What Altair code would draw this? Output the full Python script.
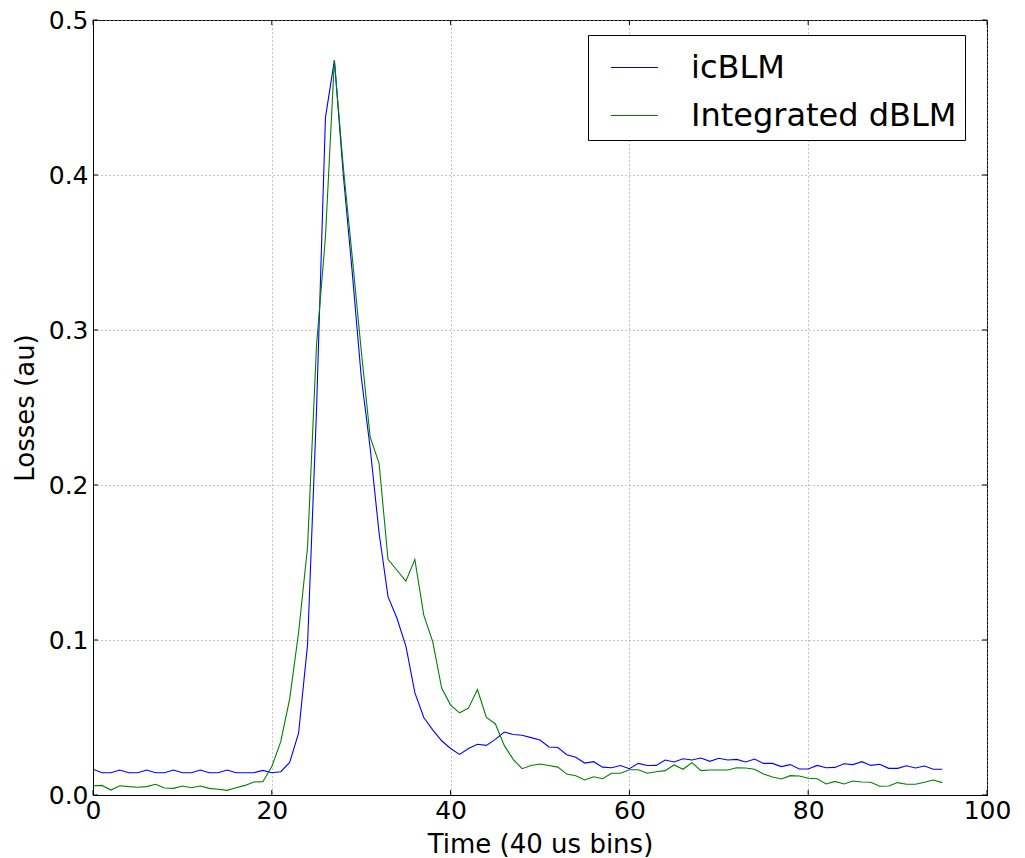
import altair as alt
import pandas as pd

time_bins = list(range(96))

icblm = [
    0.0166, 0.0144, 0.0144, 0.0161, 0.0144, 0.0144, 0.0161, 0.0144, 0.0144, 0.0161,
    0.0144, 0.0144, 0.0161, 0.0144, 0.0144, 0.0161, 0.0144, 0.0144, 0.0144, 0.0159,
    0.0144, 0.0150, 0.0210, 0.0400, 0.0970, 0.2480, 0.4370, 0.4740, 0.4000, 0.3370,
    0.2700, 0.2240, 0.1690, 0.1280, 0.1140, 0.0960, 0.0660, 0.0500, 0.0420, 0.0350,
    0.0300, 0.0262, 0.0300, 0.0327, 0.0320, 0.0359, 0.0406, 0.0390, 0.0385, 0.0370,
    0.0355, 0.0310, 0.0306, 0.0260, 0.0243, 0.0206, 0.0215, 0.0180, 0.0176, 0.0190,
    0.0170, 0.0204, 0.0190, 0.0191, 0.0226, 0.0213, 0.0234, 0.0226, 0.0239, 0.0217,
    0.0237, 0.0226, 0.0230, 0.0213, 0.0232, 0.0204, 0.0204, 0.0183, 0.0196, 0.0168,
    0.0168, 0.0191, 0.0176, 0.0178, 0.0202, 0.0196, 0.0215, 0.0191, 0.0198, 0.0172,
    0.0172, 0.0189, 0.0174, 0.0187, 0.0166, 0.0166,
]

integrated_dblm = [
    0.0060, 0.0062, 0.0032, 0.0060, 0.0054, 0.0050, 0.0054, 0.0069, 0.0045, 0.0043,
    0.0058, 0.0047, 0.0058, 0.0043, 0.0037, 0.0030, 0.0047, 0.0062, 0.0084, 0.0086,
    0.0183, 0.0344, 0.0620, 0.1050, 0.1600, 0.2900, 0.3600, 0.4740, 0.4050, 0.3470,
    0.2870, 0.2310, 0.2140, 0.1520, 0.1450, 0.1380, 0.1520, 0.1160, 0.0990, 0.0690,
    0.0580, 0.0530, 0.0560, 0.0680, 0.0500, 0.0460, 0.0320, 0.0230, 0.0170, 0.0190,
    0.0200, 0.0190, 0.0180, 0.0135, 0.0124, 0.0097, 0.0118, 0.0105, 0.0140, 0.0140,
    0.0163, 0.0163, 0.0140, 0.0150, 0.0157, 0.0194, 0.0166, 0.0209, 0.0157, 0.0161,
    0.0161, 0.0161, 0.0176, 0.0174, 0.0166, 0.0135, 0.0116, 0.0103, 0.0125, 0.0123,
    0.0108, 0.0105, 0.0071, 0.0088, 0.0071, 0.0090, 0.0084, 0.0082, 0.0056, 0.0058,
    0.0080, 0.0069, 0.0069, 0.0082, 0.0097, 0.0080,
]

series_names = ["icBLM", "Integrated dBLM"]
series_colors = ["#0000ff", "#008000"]
x_ticks = [0, 20, 40, 60, 80, 100]
y_ticks = [0.0, 0.1, 0.2, 0.3, 0.4, 0.5]

df = pd.DataFrame({
    "t": time_bins + time_bins,
    "v": icblm + integrated_dblm,
    "s": [series_names[0]] * len(icblm) + [series_names[1]] * len(integrated_dblm),
})
xt = pd.DataFrame({"t": x_ticks})
yt = pd.DataFrame({"v": y_ticks})

W, H = 894, 775
FONT = "DejaVu Sans"
xscale = alt.Scale(domain=[0, 100], nice=False, zero=False)
yscale = alt.Scale(domain=[0, 0.5], nice=False, zero=False)

x_axis = alt.Axis(
    values=x_ticks, title="Time (40 us bins)", labelFontSize=25, titleFontSize=26,
    labelPadding=3, titlePadding=8, tickSize=0, labelFlush=False, labelOverlap=False,
    grid=True, format="d")
y_axis = alt.Axis(
    values=y_ticks, format=".1f", title="Losses (au)", labelFontSize=25, titleFontSize=26,
    labelPadding=5, titlePadding=10, tickSize=0, labelFlush=False, labelOverlap=False,
    grid=True)

X = alt.X("t:Q", scale=xscale, axis=x_axis, title="Time (40 us bins)")
Y = alt.Y("v:Q", scale=yscale, axis=y_axis, title="Losses (au)")

lines = alt.Chart(df).mark_line(strokeWidth=1.1, clip=True).encode(
    x=X,
    y=Y,
    color=alt.Color("s:N", scale=alt.Scale(domain=series_names, range=series_colors),
                    legend=alt.Legend(
                        title=None, orient="none", legendX=495, legendY=15,
                        symbolType="stroke", symbolSize=2209, symbolStrokeWidth=1.2,
                        labelFontSize=32, labelFont=FONT, labelColor="black",
                        strokeColor="black", fillColor="white", padding=8,
                        symbolOffset=14, labelOffset=32, rowPadding=7,
                        cornerRadius=0, labelLimit=400)),
)

tick_len = 5
bottom_ticks = alt.Chart(xt).mark_rule(color="black", strokeWidth=1).encode(
    x=X, y=alt.value(H), y2=alt.value(H - tick_len))
top_ticks = alt.Chart(xt).mark_rule(color="black", strokeWidth=1).encode(
    x=X, y=alt.value(0), y2=alt.value(tick_len))
left_ticks = alt.Chart(yt).mark_rule(color="black", strokeWidth=1).encode(
    y=Y, x=alt.value(0), x2=alt.value(tick_len))
right_ticks = alt.Chart(yt).mark_rule(color="black", strokeWidth=1).encode(
    y=Y, x=alt.value(W), x2=alt.value(W - tick_len))

chart = alt.layer(lines, bottom_ticks, top_ticks, left_ticks, right_ticks).properties(
    width=W, height=H,
    autosize=alt.AutoSizeParams(type="none"),
    padding={"left": 93, "top": 20, "right": 38, "bottom": 63},
    background="white",
).configure_view(
    stroke="black", strokeWidth=1
).configure_axis(
    labelFont=FONT, titleFont=FONT, labelColor="black", titleColor="black",
    titleFontWeight="normal", domainColor="black", domainWidth=1,
    gridColor="#888888", gridWidth=1, gridDash=[1, 3],
)

chart.save("out.html", embed_options={"renderer": "svg", "actions": False})
